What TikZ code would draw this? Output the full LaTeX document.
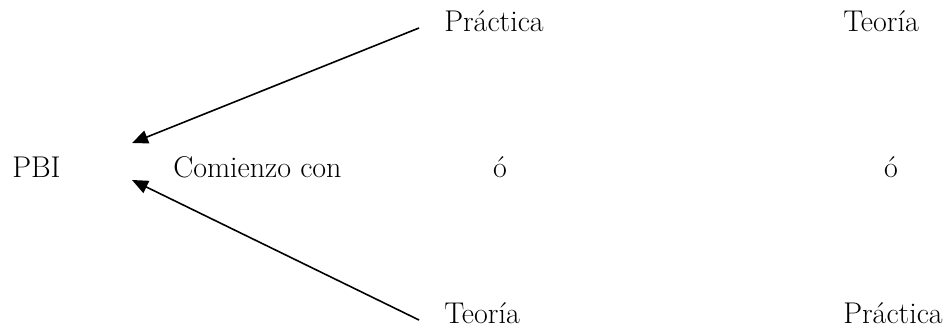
\documentclass[tikz,border=0pt]{standalone}
\usepackage{fontspec}
\usepackage{tikz}
\usetikzlibrary{arrows.meta}
\tikzstyle{WordNode}=[inner sep=0pt,anchor=base west,font=\fontsize{22.5}{27}\selectfont]
\tikzstyle{EdgeArrow}=[black,line width=1.2pt,-{Triangle[length=12pt,width=10pt]}]
\begin{document}
\begin{tikzpicture}[x=0.75pt,y=-0.75pt]
        \useasboundingbox(0,0)rectangle(946,328);
        \node[WordNode](pbi)at(12,177){PBI};
        \node[WordNode](comienzo)at(173,177){Comienzo con};
        \node[WordNode](practA)at(444,32){Práctica};
        \node[WordNode](teorA)at(843,32){Teoría};
        \node[WordNode,anchor=base](ouA)at(500,177){ó};
        \node[WordNode,anchor=base](ouB)at(891,177){ó};
        \node[WordNode](teorB)at(444,323){Teoría};
        \node[WordNode](practB)at(843,323){Práctica};
        \coordinate(tipA)at(132,143);
        \coordinate(tipB)at(132,180);
        \draw[EdgeArrow]([xshift=-18.75pt,yshift=3pt]practA.base west)--(tipA);
        \draw[EdgeArrow]([xshift=-18.75pt,yshift=2.25pt]teorB.base west)--(tipB);
    \end{tikzpicture}
\end{document}
